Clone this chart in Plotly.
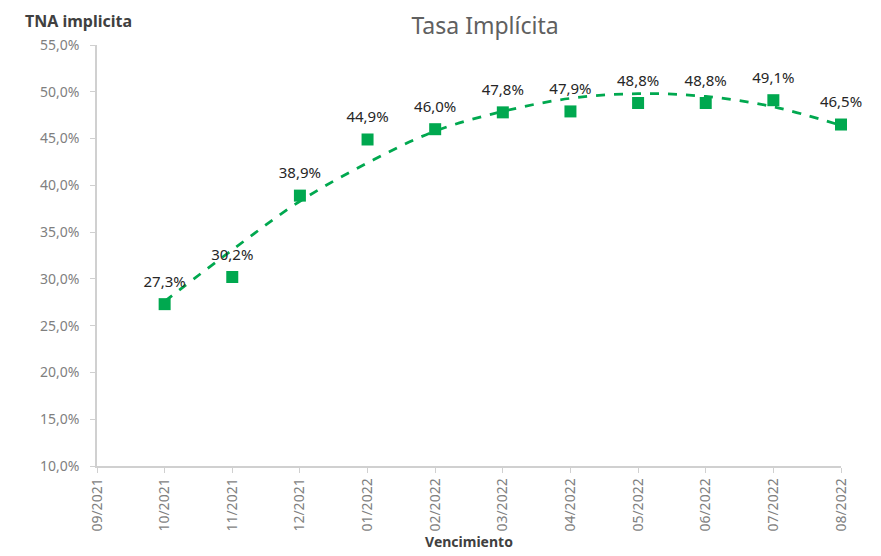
import plotly.graph_objects as go

# Data
months = ["09/2021", "10/2021", "11/2021", "12/2021", "01/2022", "02/2022",
          "03/2022", "04/2022", "05/2022", "06/2022", "07/2022", "08/2022"]
tna = [None, 27.3, 30.2, 38.9, 44.9, 46.0, 47.8, 47.9, 48.8, 48.8, 49.1, 46.5]
trend = [None, 27.6, 33.1, 38.3, 42.4, 45.8, 47.9, 49.3, 49.8, 49.5, 48.4, 46.4]
y_ticks = [10, 15, 20, 25, 30, 35, 40, 45, 50, 55]

GREEN = "#00A84F"
x_pos = list(range(len(months)))

def fmt(v):
    return f"{v:.1f}".replace(".", ",") + "%"

W, H = 881, 556
L, R, T, B = 89, 48, 37, 98
PW, PH = W - L - R, H - T - B

fig = go.Figure()

fig.add_trace(go.Scatter(
    x=[x for x, t in zip(x_pos, trend) if t is not None],
    y=[t for t in trend if t is not None],
    mode="lines",
    line=dict(color=GREEN, width=2.75, dash="dash", shape="spline", smoothing=1.0),
    hoverinfo="skip",
    showlegend=False,
))

xs = [x for x, v in zip(x_pos, tna) if v is not None]
ys = [v for v in tna if v is not None]

# invisible larger markers to carry the data labels a bit higher
fig.add_trace(go.Scatter(
    x=xs, y=ys,
    mode="markers+text",
    marker=dict(symbol="square", size=20, color="rgba(0,0,0,0)"),
    text=[fmt(v) for v in ys],
    textposition="top center",
    textfont=dict(family="Noto Sans", size=15, color="#262626"),
    cliponaxis=False,
    hoverinfo="skip",
    showlegend=False,
))

fig.add_trace(go.Scatter(
    x=xs, y=ys,
    mode="markers",
    marker=dict(symbol="square", size=12, color=GREEN),
    cliponaxis=False,
    showlegend=False,
))

fig.update_layout(
    width=W, height=H,
    margin=dict(l=L, r=R, t=T, b=B, autoexpand=False),
    paper_bgcolor="white", plot_bgcolor="white",
    font=dict(family="Noto Sans", color="#595959"),
    title=dict(text="Tasa Implícita", x=477 / W, xanchor="center", y=1 - 18 / H, yanchor="middle",
               font=dict(family="Noto Sans", size=23, color="#606060")),
    xaxis=dict(
        range=[0, 11],
        tickmode="array", tickvals=x_pos, ticktext=months,
        tickangle=-90,
        tickfont=dict(family="Noto Sans", size=14, color="#7f7f7f"),
        showline=True, linecolor="#d0d0d0", linewidth=1.5,
        ticks="outside", ticklen=5, tickcolor="#d0d0d0",
        showgrid=False, zeroline=False, automargin=False,
        title=dict(text="<b>Vencimiento</b>", font=dict(family="Noto Sans", size=14, color="#404040"),
                   standoff=6),
    ),
    yaxis=dict(
        range=[10, 55],
        tickmode="array", tickvals=y_ticks, ticktext=[fmt(v) for v in y_ticks],
        tickfont=dict(family="Noto Sans", size=14, color="#7f7f7f"),
        showline=True, linecolor="#d0d0d0", linewidth=1.5,
        ticks="outside", ticklen=5, tickcolor="#d0d0d0",
        ticklabelstandoff=8,
        showgrid=False, zeroline=False, automargin=False,
    ),
    annotations=[dict(
        text="<b>TNA implicita</b>",
        x=(15 - L) / PW, y=1 + (T - 13) / PH, xref="paper", yref="paper",
        showarrow=False, xanchor="left", yanchor="middle",
        font=dict(family="Noto Sans", size=16, color="#404040"),
    )],
)

fig.write_html("out.html")
